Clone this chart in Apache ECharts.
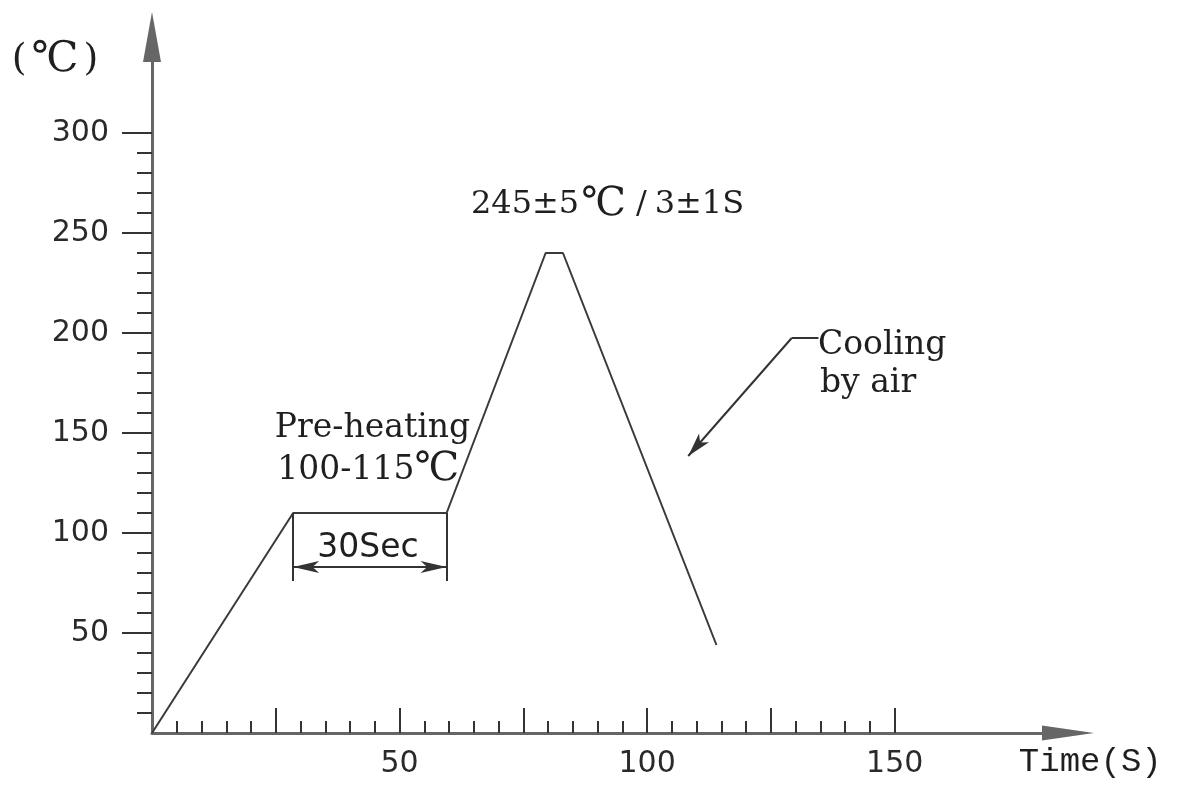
<!DOCTYPE html>
<html><head><meta charset="utf-8">
<script src="https://cdn.jsdelivr.net/npm/echarts@6/dist/echarts.min.js"></script>
<style>html,body{margin:0;padding:0;background:#fff}#c{width:1192px;height:785px}</style>
</head><body><div id="c"></div>
<script>
// reflow soldering profile (time in s, temperature in °C)
const timeS = [0, 28.5, 59.5, 79.5, 83, 114];
const tempC = [0, 110, 110, 240, 240, 44];

const xMinorTicks = [5,10,15,20,30,35,40,45,55,60,65,70,80,85,90,95,105,110,115,120,130,135,140,145];
const xMajorTicks = [25,50,75,100,125,150];
const xLabels = [50,100,150];
const yMinorTicks = [10,20,30,40,60,70,80,90,110,120,130,140,160,170,180,190,210,220,230,240,260,270,280,290];
const yMajorTicks = [50,100,150,200,250,300];
const yLabels = [50,100,150,200,250,300];

const X_MAX = 185, Y_MAX = 348;
const axisColor = '#666', tickColor = '#333', inkColor = '#1f1f1f';
const labelFont = {fontFamily:'DejaVu Sans', fontSize:30, color:'#2a2a2a'};

const chart = echarts.init(document.getElementById('c'));
const xBase = {type:'value', min:0, max:X_MAX, position:'bottom', splitLine:{show:false}};
const yBase = {type:'value', min:0, max:Y_MAX, position:'left', splitLine:{show:false}};

const profile = timeS.map((t, i) => [t, tempC[i]]);

chart.setOption({
  animation:false,
  backgroundColor:'#fff',
  grid:{left:152, right:124, top:37, bottom:52, containLabel:false},
  xAxis:[
    Object.assign({}, xBase, {
      axisLine:{show:true, symbol:['none','triangle'], symbolSize:[15,52], lineStyle:{color:axisColor, width:3}},
      axisTick:{show:true, inside:true, length:12, customValues:xMinorTicks, lineStyle:{color:tickColor, width:2}},
      axisLabel:Object.assign({customValues:xLabels, margin:16}, labelFont)
    }),
    Object.assign({}, xBase, {
      axisLine:{show:false},
      axisTick:{show:true, inside:true, length:25, customValues:xMajorTicks, lineStyle:{color:tickColor, width:2}},
      axisLabel:{show:false}
    })
  ],
  yAxis:[
    Object.assign({}, yBase, {
      axisLine:{show:true, symbol:['none','triangle'], symbolSize:[18,50], lineStyle:{color:axisColor, width:3}},
      axisTick:{show:true, inside:false, length:15, customValues:yMinorTicks, lineStyle:{color:tickColor, width:2}},
      axisLabel:Object.assign({customValues:yLabels, margin:43}, labelFont)
    }),
    Object.assign({}, yBase, {
      axisLine:{show:false},
      axisTick:{show:true, inside:false, length:30, customValues:yMajorTicks, lineStyle:{color:tickColor, width:2}},
      axisLabel:{show:false}
    })
  ],
  series:[
    {
      type:'line', xAxisIndex:0, yAxisIndex:0, data:profile, symbol:'none',
      lineStyle:{color:'#3a3a3a', width:2}, silent:true
    },
    {
      type:'line', xAxisIndex:0, yAxisIndex:0, data:[], color:'#333', silent:true,
      markLine:{
        silent:true, animation:false, symbol:['none','none'], label:{show:false},
        lineStyle:{type:'solid', color:'#333', width:2},
        emphasis:{disabled:true},
        data:[
          // 30 s dwell bracket
          [{coord:[timeS[1],tempC[1]]},{coord:[timeS[1],76]}],
          [{coord:[timeS[2],tempC[2]]},{coord:[timeS[2],76]}],
          [{coord:[timeS[1],83], symbol:'arrow', symbolSize:[9,26], itemStyle:{color:'#222'}},
           {coord:[timeS[2],83], symbol:'arrow', symbolSize:[9,26], itemStyle:{color:'#222'}}],
          // cooling leader
          [{coord:[134.6,197.5]},{coord:[129.2,197.5]}],
          [{coord:[129.2,197.5]},{coord:[108.3,138.5], symbol:'arrow', symbolSize:[10,24], itemStyle:{color:'#222'}}]
        ]
      }
    }
  ]
});

function px(p){ return chart.convertToPixel({xAxisIndex:0, yAxisIndex:0}, p); }
const serif = 'DejaVu Serif';
function txt(at, text, size, align, extra){
  const p = px(at);
  return {type:'text', x:p[0], y:p[1], silent:true,
    style:Object.assign({text:text, fontFamily:serif, fontSize:size, fill:inkColor, align:align, verticalAlign:'middle'}, extra||{})};
}
chart.setOption({graphic:[
  txt([-19.6,336.5], '{p|(}{b|℃}{p|)}', 30, 'center', {
    rich:{ p:{fontFamily:serif, fontSize:38, fill:inkColor, padding:[0,5,0,5]}, b:{fontFamily:serif, fontSize:42, fill:inkColor} }
  }),
  txt([189.5,-14.5], 'Time(S)', 34, 'center', {fontFamily:'Liberation Mono'}),
  txt([92,264], '{a|245±5}{b|℃}{c|/}{a|3±1S}', 32, 'center', {
    rich:{
      a:{fontFamily:serif, fontSize:32, fill:inkColor},
      b:{fontFamily:serif, fontSize:40, fill:inkColor, padding:[0,2,0,2]},
      c:{fontFamily:serif, fontSize:32, fill:inkColor, padding:[0,8,0,8]}
    }
  }),
  txt([24.8,152.5], 'Pre-heating', 33, 'left'),
  txt([25.3,131.5], '{a|100-115}{b|℃}', 33, 'left', {
    rich:{ a:{fontFamily:serif, fontSize:33, fill:inkColor}, b:{fontFamily:serif, fontSize:40, fill:inkColor} }
  }),
  txt([43.6,92.5], '30Sec', 33, 'center', {fontFamily:'DejaVu Sans'}),
  txt([134.5,194], 'Cooling', 33, 'left'),
  txt([134.9,175], 'by air', 33, 'left')
]});
</script>
</body></html>
